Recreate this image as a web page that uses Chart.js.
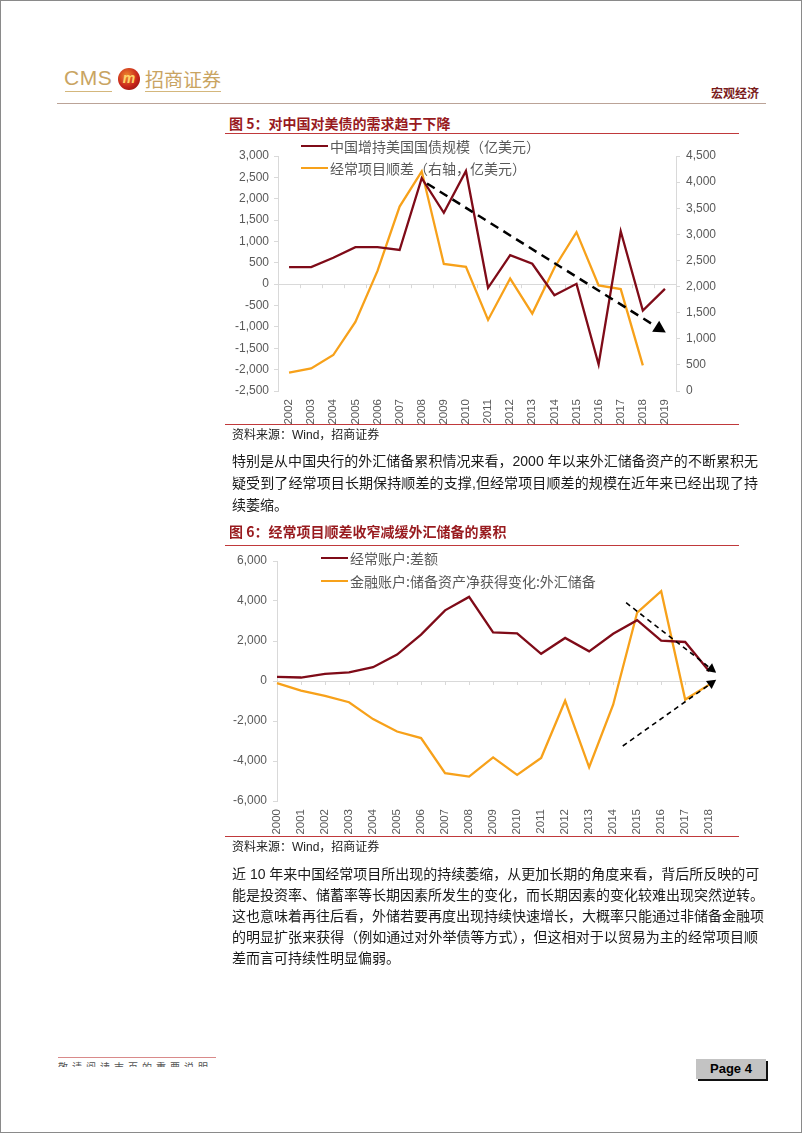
<!DOCTYPE html>
<html><head><meta charset="utf-8">
<script src="https://cdn.jsdelivr.net/npm/chart.js@4.4.1/dist/chart.umd.min.js"></script>
<style>
html,body{margin:0;padding:0;background:#fff;}
#page{position:relative;width:802px;height:1133px;box-sizing:border-box;border:1px solid #8a8a8a;overflow:hidden;background:#fff;
 font-family:"Liberation Sans","Noto Sans CJK SC",sans-serif;}
.abs{position:absolute;white-space:nowrap;}
.title{font-family:"Noto Sans CJK SC",sans-serif;font-weight:bold;font-size:14px;line-height:20px;color:#981a1e;}
.rule{position:absolute;height:0;border-top:1.5px solid #c0393b;}
.src{font-size:12px;line-height:16px;color:#222;}
.para{position:absolute;left:231px;width:526px;font-size:14px;line-height:20px;color:#1a1a1a;white-space:nowrap;text-align:justify;text-align-last:justify;}
.para.last{text-align-last:left;}
.leg{position:absolute;font-family:"Noto Sans CJK SC",sans-serif;font-size:14px;line-height:20px;color:#595959;white-space:nowrap;}
.legline{position:absolute;height:2.5px;}
.chartbox{position:absolute;}
</style></head>
<body>
<div id="page">
  <!-- header -->
  <div class="abs" style="left:63px;top:64px;font-size:21px;line-height:26px;color:#c9a462;letter-spacing:0.5px;">CMS</div>
  <div class="abs" style="left:64px;top:90px;width:47px;border-top:1.5px solid #d4b77c;"></div>
  <div class="abs" style="left:117px;top:67px;width:22px;height:22px;border-radius:50%;background:radial-gradient(circle at 40% 35%,#f08a2c 0%,#c8261c 55%,#7a0a0a 100%);"></div>
  <div class="abs" style="left:117px;top:67px;width:22px;height:22px;text-align:center;font-size:14px;line-height:21px;font-style:italic;font-weight:bold;color:#ffd36a;">m</div>
  <div class="abs" style="left:144px;top:65px;font-family:'Noto Sans CJK SC';font-size:19px;line-height:26px;color:#c9a462;">招商证券</div>
  <div class="abs" style="left:144px;top:90px;width:76px;border-top:1.5px solid #d4b77c;"></div>
  <div class="abs" style="left:710px;top:84px;font-family:'Noto Sans CJK SC';font-size:12px;line-height:16px;font-weight:bold;color:#7a1c1c;">宏观经济</div>
  <div class="abs" style="left:56px;top:102px;width:709px;border-top:1.5px solid #bba397;"></div>

  <!-- figure 5 -->
  <div class="abs title" style="left:228px;top:112px;">图 5：对中国对美债的需求趋于下降</div>
  <div class="rule" style="left:224px;top:132px;width:514px;"></div>
  <div class="chartbox" style="left:220px;top:140px;width:510px;height:290px;"><canvas id="c1" width="510" height="290"></canvas></div>
  <div id="leg1"></div>
  <div class="rule" style="left:224px;top:423px;width:514px;"></div>
  <div class="abs src" style="left:231px;top:426px;">资料来源：Wind，招商证券</div>

  <div class="para" style="top:450px;">特别是从中国央行的外汇储备累积情况来看，2000 年以来外汇储备资产的不断累积无</div>
  <div class="para" style="top:472px;">疑受到了经常项目长期保持顺差的支撑,但经常项目顺差的规模在近年来已经出现了持</div>
  <div class="para last" style="top:494px;">续萎缩。</div>

  <!-- figure 6 -->
  <div class="abs title" style="left:228px;top:520px;">图 6：经常项目顺差收窄减缓外汇储备的累积</div>
  <div class="rule" style="left:224px;top:544px;width:514px;"></div>
  <div class="chartbox" style="left:220px;top:545px;width:510px;height:295px;"><canvas id="c2" width="510" height="295"></canvas></div>
  <div id="leg2"></div>
  <div class="rule" style="left:224px;top:835px;width:514px;"></div>
  <div class="abs src" style="left:231px;top:838px;">资料来源：Wind，招商证券</div>

  <div class="para" style="top:863px;">近 10 年来中国经常项目所出现的持续萎缩，从更加长期的角度来看，背后所反映的可</div>
  <div class="para" style="top:884px;">能是投资率、储蓄率等长期因素所发生的变化，而长期因素的变化较难出现突然逆转。</div>
  <div class="para" style="top:905px;">这也意味着再往后看，外储若要再度出现持续快速增长，大概率只能通过非储备金融项</div>
  <div class="para" style="top:926px;">的明显扩张来获得（例如通过对外举债等方式），但这相对于以贸易为主的经常项目顺</div>
  <div class="para last" style="top:947px;">差而言可持续性明显偏弱。</div>

  <!-- footer -->
  <div class="abs" style="left:57px;top:1056px;width:158px;border-top:1px solid #d98a8a;"></div>
  <div class="abs" style="left:57px;top:1060px;width:160px;height:6px;overflow:hidden;">
    <div style="font-family:'Noto Sans CJK SC';font-size:10px;line-height:12px;color:#555;letter-spacing:4px;">敬请阅读末页的重要说明</div>
  </div>
  <div class="abs" style="left:695px;top:1058px;width:70px;height:20px;background:#c3c3c3;box-shadow:2px 2px 0 #111;text-align:center;font-family:'Liberation Sans Narrow','Liberation Sans';font-weight:bold;font-size:13px;line-height:20px;color:#000;">Page 4</div>
</div>

<script>
// ---------- data: figure 5 ----------
const years5 = ['2002','2003','2004','2005','2006','2007','2008','2009','2010','2011','2012','2013','2014','2015','2016','2017','2018','2019'];
const usTreasuryIncrease = [400,400,620,865,865,800,2480,1670,2650,-85,680,477,-258,8,-1880,1240,-617,-110];
const currentSurplus5 = [354,431,689,1324,2300,3532,4206,2433,2378,1361,2154,1482,2360,3042,2022,1951,491,null];
const series5Labels = ['中国增持美国国债规模（亿美元）','经常项目顺差（右轴，亿美元）'];
const leftTicks5 = {min:-2500, max:3000, step:500};
const rightTicks5 = {min:0, max:4500, step:500};
const trend5X = [6.24, 17.04];      // category index positions
const trend5Y = [2356, -1133];      // left-axis values

// ---------- data: figure 6 ----------
const years6 = ['2000','2001','2002','2003','2004','2005','2006','2007','2008','2009','2010','2011','2012','2013','2014','2015','2016','2017','2018'];
const caBalance = [205,174,354,431,689,1324,2318,3532,4206,2433,2378,1361,2154,1482,2360,3042,2022,1951,491];
const fxReserveChange = [-110,-480,-742,-1061,-1904,-2526,-2853,-4607,-4783,-3821,-4696,-3848,-987,-4314,-1188,3423,4487,-930,-182];
const series6Labels = ['经常账户:差额','金融账户:储备资产净获得变化:外汇储备'];
const ticks6 = {min:-6000, max:6000, step:2000};
const trend6aX = [14.54, 18.29], trend6aY = [3915, 415];
const trend6bX = [14.40, 18.29], trend6bY = [-3250, 60];

const BROWN = '#7f0b18', ORANGE = '#f7a11a', GRID = '#d9d9d9', TICKC = '#595959';

const arrowPlugin = {
  id:'arrows',
  afterDatasetsDraw(chart, args, opts){
    const ctx = chart.ctx;
    (opts.list||[]).forEach(a=>{
      const xs = chart.scales.x, ys = chart.scales[a.axis];
      const x1 = xs.getPixelForValue(a.x[0]), y1 = ys.getPixelForValue(a.y[0]);
      const x2 = xs.getPixelForValue(a.x[1]), y2 = ys.getPixelForValue(a.y[1]);
      const ang = Math.atan2(y2-y1, x2-x1);
      const hl = a.head, hw = a.head*0.55;
      const bx = x2 - hl*Math.cos(ang), by = y2 - hl*Math.sin(ang);
      ctx.save();
      ctx.strokeStyle = '#000'; ctx.lineWidth = a.width; ctx.setLineDash(a.dash);
      ctx.beginPath(); ctx.moveTo(x1,y1); ctx.lineTo(bx,by); ctx.stroke();
      ctx.setLineDash([]);
      ctx.beginPath(); ctx.moveTo(x2,y2);
      ctx.lineTo(bx + hw*Math.sin(ang), by - hw*Math.cos(ang));
      ctx.lineTo(bx - hw*Math.sin(ang), by + hw*Math.cos(ang));
      ctx.closePath(); ctx.fillStyle = '#000'; ctx.fill();
      ctx.restore();
    });
  }
};
const zeroTickPlugin = {
  id:'zeroTicks',
  beforeDatasetsDraw(chart, args, opts){
    if(!opts.axis) return;
    const ctx = chart.ctx, xs = chart.scales.x, ys = chart.scales[opts.axis];
    const y0 = ys.getPixelForValue(0), n = chart.data.labels.length;
    ctx.save(); ctx.strokeStyle = GRID; ctx.lineWidth = 1;
    for(let i=0;i<=n;i++){
      if(!opts.between && i===n) continue;
      const px = Math.round(opts.between ? xs.getPixelForValue(i-0.5) : xs.getPixelForValue(i)) + 0.5;
      ctx.beginPath(); ctx.moveTo(px,y0); ctx.lineTo(px,y0+4); ctx.stroke();
    }
    ctx.restore();
  }
};

const tickFont = {family:'Liberation Sans', size:12};
const fmt = v => Number(v).toLocaleString('en-US');
const zeroOnly = c => (c.tick && c.tick.value === 0) ? GRID : 'rgba(0,0,0,0)';

function legend(id, items, x0, yc){
  const host = document.getElementById(id);
  items.forEach((it,i)=>{
    const y = yc[i];
    const l = document.createElement('div'); l.className='legline';
    l.style.cssText = `left:${x0}px;top:${y-1.25}px;width:27px;background:${it.color};`;
    const t = document.createElement('div'); t.className='leg';
    t.style.cssText = `left:${x0+29}px;top:${y-10}px;`;
    t.textContent = it.label;
    host.appendChild(l); host.appendChild(t);
  });
}

// ---------- chart 1 ----------
new Chart(document.getElementById('c1'), {
  type:'line',
  data:{labels:years5, datasets:[
    {label:series5Labels[0], data:usTreasuryIncrease, yAxisID:'y', borderColor:BROWN, borderWidth:2.3, pointRadius:0, tension:0, fill:false},
    {label:series5Labels[1], data:currentSurplus5, yAxisID:'y1', borderColor:ORANGE, borderWidth:2.3, pointRadius:0, tension:0, fill:false}
  ]},
  options:{
    responsive:false, animation:false, devicePixelRatio:1,
    layout:{padding:{top:15,left:0,right:0,bottom:0}},
    plugins:{legend:{display:false}, tooltip:{enabled:false},
      arrows:{list:[{axis:'y', x:trend5X, y:trend5Y, width:2.5, dash:[9,6], head:12}]},
      zeroTicks:{axis:'y', between:true}},
    scales:{
      x:{type:'category', offset:true, grid:{display:false, drawTicks:false}, border:{display:false},
         ticks:{minRotation:90, maxRotation:90, padding:8, color:TICKC, font:{family:'Liberation Sans', size:11.5}, autoSkip:false},
         afterFit(s){ s.height = 40; }},
      y:{position:'left', min:leftTicks5.min, max:leftTicks5.max,
         ticks:{stepSize:leftTicks5.step, padding:5, color:TICKC, font:tickFont, callback:fmt},
         grid:{color:zeroOnly, tickColor:GRID, tickLength:4, drawOnChartArea:true},
         border:{display:true, color:GRID, width:1},
         afterFit(s){ s.width = 57; }},
      y1:{position:'right', min:rightTicks5.min, max:rightTicks5.max,
         ticks:{stepSize:rightTicks5.step, padding:6, color:TICKC, font:tickFont, callback:fmt},
         grid:{drawOnChartArea:false, tickColor:GRID, tickLength:4},
         border:{display:true, color:GRID, width:1},
         afterFit(s){ s.width = 55; }}
    }
  },
  plugins:[arrowPlugin, zeroTickPlugin]
});
legend('leg1', [{label:series5Labels[0], color:BROWN},{label:series5Labels[1], color:ORANGE}], 300, [145,167]);

// ---------- chart 2 ----------
new Chart(document.getElementById('c2'), {
  type:'line',
  data:{labels:years6, datasets:[
    {label:series6Labels[0], data:caBalance, yAxisID:'y', borderColor:BROWN, borderWidth:2.3, pointRadius:0, tension:0, fill:false},
    {label:series6Labels[1], data:fxReserveChange, yAxisID:'y', borderColor:ORANGE, borderWidth:2.3, pointRadius:0, tension:0, fill:false}
  ]},
  options:{
    responsive:false, animation:false, devicePixelRatio:1,
    layout:{padding:{top:15,left:0,right:20,bottom:0}},
    plugins:{legend:{display:false}, tooltip:{enabled:false},
      arrows:{list:[
        {axis:'y', x:trend6aX, y:trend6aY, width:1.6, dash:[5,4], head:9},
        {axis:'y', x:trend6bX, y:trend6bY, width:1.6, dash:[5,4], head:9}]},
      zeroTicks:{axis:'y', between:false}},
    scales:{
      x:{type:'category', offset:false, grid:{display:false, drawTicks:false}, border:{display:false},
         ticks:{minRotation:90, maxRotation:90, padding:8, color:TICKC, font:{family:'Liberation Sans', size:11.5}, autoSkip:false},
         afterFit(s){ s.height = 40; }},
      y:{position:'left', min:ticks6.min, max:ticks6.max,
         ticks:{stepSize:ticks6.step, padding:6, color:TICKC, font:tickFont, callback:fmt},
         grid:{color:zeroOnly, tickColor:GRID, tickLength:4, drawOnChartArea:true},
         border:{display:true, color:GRID, width:1},
         afterFit(s){ s.width = 56; }}
    }
  },
  plugins:[arrowPlugin, zeroTickPlugin]
});
legend('leg2', [{label:series6Labels[0], color:BROWN},{label:series6Labels[1], color:ORANGE}], 320, [557,580]);
</script>
</body></html>
